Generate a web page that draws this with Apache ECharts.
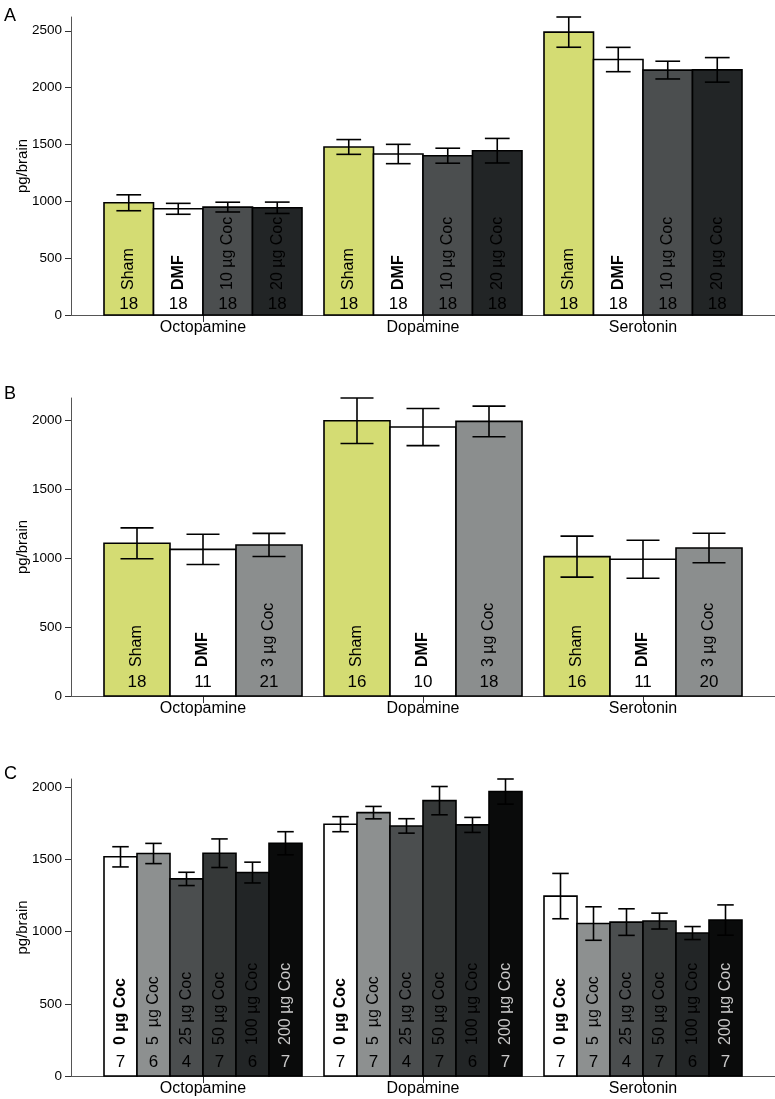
<!DOCTYPE html>
<html>
<head>
<meta charset="utf-8">
<script src="https://cdn.jsdelivr.net/npm/echarts@6/dist/echarts.min.js"></script>
<style>html,body{margin:0;padding:0;background:#fff}#c{width:775px;height:1099px}</style>
</head>
<body>
<div id="c"></div>
<script>
// ---- data ----
const categories = ['Octopamine', 'Dopamine', 'Serotonin'];
const yTicksA = [0, 500, 1000, 1500, 2000, 2500];
const yTicksB = [0, 500, 1000, 1500, 2000];
const yTicksC = [0, 500, 1000, 1500, 2000];

// Panel A
const aLabels = ['Sham', 'DMF', '10 µg Coc', '20 µg Coc'];
const aSham = [987, 1478, 2488], aShamErr = [70, 65, 133], aShamN = [18, 18, 18];
const aDMF = [934, 1416, 2247], aDMFErr = [48, 85, 107], aDMFN = [18, 18, 18];
const aC10 = [949, 1401, 2154], aC10Err = [43, 66, 78], aC10N = [18, 18, 18];
const aC20 = [943, 1445, 2156], aC20Err = [50, 108, 108], aC20N = [18, 18, 18];

// Panel B
const bLabels = ['Sham', 'DMF', '3 µg Coc'];
const bSham = [1109, 1999, 1012], bShamErr = [112, 165, 149], bShamN = [18, 16, 16];
const bDMF = [1065, 1953, 993], bDMFErr = [110, 135, 138], bDMFN = [11, 10, 11];
const bC3 = [1097, 1994, 1075], bC3Err = [84, 111, 107], bC3N = [21, 18, 20];

// Panel C
const cLabels = ['0 µg Coc', '5  µg Coc', '25 µg Coc', '50 µg Coc', '100 µg Coc', '200 µg Coc'];
const cC0 = [1518, 1744, 1246], cC0Err = [70, 52, 157], cC0N = [7, 7, 7];
const cC5 = [1541, 1824, 1056], cC5Err = [70, 43, 116], cC5N = [6, 7, 7];
const cC25 = [1365, 1732, 1066], cC25Err = [46, 50, 92], cC25N = [4, 4, 4];
const cC50 = [1543, 1907, 1073], cC50Err = [99, 98, 55], cC50N = [7, 7, 7];
const cC100 = [1409, 1739, 990], cC100Err = [72, 52, 45], cC100N = [6, 6, 6];
const cC200 = [1612, 1970, 1080], cC200Err = [80, 87, 105], cC200N = [7, 7, 7];

// ---- styling ----
const FONT = '"Liberation Sans", Arial, Helvetica, sans-serif';
const SHAM = '#d4dc73';
const panels = [
  {
    letter: 'A', top: 17, bottom: 784, ticks: yTicksA, labels: aLabels,
    groups: [[aSham, aShamErr, aShamN], [aDMF, aDMFErr, aDMFN], [aC10, aC10Err, aC10N], [aC20, aC20Err, aC20N]],
    fills: [SHAM, '#ffffff', '#4b4e4f', '#222526'],
    textColors: ['#000', '#000', '#000', '#000'],
    bold: [false, true, false, false],
    numOff: 11, labOff: 25, letterTop: 2
  },
  {
    letter: 'B', top: 398, bottom: 403, ticks: yTicksB, labels: bLabels,
    groups: [[bSham, bShamErr, bShamN], [bDMF, bDMFErr, bDMFN], [bC3, bC3Err, bC3N]],
    fills: [SHAM, '#ffffff', '#8b8e8e'],
    textColors: ['#000', '#000', '#000'],
    bold: [false, true, false],
    numOff: 13.5, labOff: 29, letterTop: 380
  },
  {
    letter: 'C', top: 779, bottom: 23, ticks: yTicksC, labels: cLabels,
    groups: [[cC0, cC0Err, cC0N], [cC5, cC5Err, cC5N], [cC25, cC25Err, cC25N], [cC50, cC50Err, cC50N], [cC100, cC100Err, cC100N], [cC200, cC200Err, cC200N]],
    fills: ['#ffffff', '#8d9090', '#4b4e4f', '#353838', '#222526', '#0a0b0b'],
    textColors: ['#000', '#000', '#000', '#000', '#000', '#c8c8c8'],
    bold: [true, false, false, false, false, false],
    numOff: 14, labOff: 31, letterTop: 760
  }
];

const grids = [], xAxes = [], yAxes = [], series = [], titles = [];
panels.forEach((p, pi) => {
  let ymax = 0;
  p.groups.forEach(g => g[0].forEach((v, i) => { ymax = Math.max(ymax, v + g[1][i]); }));
  grids.push({ left: 71, right: 0, top: p.top, bottom: p.bottom });
  titles.push({ text: p.letter, left: -1, top: p.letterTop, textStyle: { fontFamily: FONT, fontSize: 18, fontWeight: 'normal', color: '#000' } });
  xAxes.push({
    type: 'value', gridIndex: pi, min: -0.6, max: 2.6,
    splitLine: { show: false },
    axisLine: { show: true, onZero: false, lineStyle: { color: '#555', width: 1 } },
    axisTick: { show: true, length: 7, customValues: [0, 1, 2], lineStyle: { color: '#333' } },
    axisLabel: {
      customValues: [0, 1, 2], margin: 5,
      formatter: v => categories[Math.round(v)] || '',
      fontFamily: FONT, fontSize: 16, color: '#000'
    }
  });
  yAxes.push({
    type: 'value', gridIndex: pi, min: 0, max: ymax,
    name: 'pg/brain', nameLocation: 'middle', nameRotate: 90, nameGap: 41, nameMoveOverlap: false,
    nameTextStyle: { fontFamily: FONT, fontSize: 15, color: '#000' },
    splitLine: { show: false },
    axisLine: { show: true, onZero: false, lineStyle: { color: '#555', width: 1 } },
    axisTick: { show: true, length: 6, customValues: p.ticks, lineStyle: { color: '#333' } },
    axisLabel: { customValues: p.ticks, margin: 9, formatter: v => String(v), fontFamily: FONT, fontSize: 13.5, color: '#000' }
  });
  const ng = p.groups.length;
  p.groups.forEach((g, gi) => {
    const data = g[0].map((v, i) => [i, v, g[1][i], g[2][i]]);
    series.push({
      type: 'custom', xAxisIndex: pi, yAxisIndex: pi, clip: false,
      data: data,
      renderItem: (params, api) => {
        const ci = api.value(0), v = api.value(1), e = api.value(2), n = api.value(3);
        const w = 0.9 / ng;
        const x0 = ci - 0.45 + gi * w, x1 = x0 + w, xc = (x0 + x1) / 2;
        const pBase = api.coord([x0, 0]);
        const pTop = api.coord([x1, v]);
        const eTop = api.coord([xc, v + e]);
        const eBot = api.coord([xc, v - e]);
        const capL = api.coord([xc - w / 4, v]);
        const capR = api.coord([xc + w / 4, v]);
        const cx = (pBase[0] + pTop[0]) / 2;
        const lineStyle = { stroke: '#000', lineWidth: 1.6 };
        return {
          type: 'group',
          children: [
            { type: 'rect', shape: { x: pBase[0], y: pTop[1], width: pTop[0] - pBase[0], height: pBase[1] - pTop[1] },
              style: { fill: p.fills[gi], stroke: '#000', lineWidth: 1.6 } },
            { type: 'line', shape: { x1: eTop[0], y1: eTop[1], x2: eBot[0], y2: eBot[1] }, style: lineStyle },
            { type: 'line', shape: { x1: capL[0], y1: eTop[1], x2: capR[0], y2: eTop[1] }, style: lineStyle },
            { type: 'line', shape: { x1: capL[0], y1: eBot[1], x2: capR[0], y2: eBot[1] }, style: lineStyle },
            { type: 'text', x: cx, y: pBase[1] - p.numOff,
              style: { text: String(n), fill: p.textColors[gi], font: '17px ' + FONT, align: 'center', verticalAlign: 'middle' } },
            { type: 'text', x: cx, y: pBase[1] - p.labOff, rotation: Math.PI / 2,
              style: { text: p.labels[gi], fill: p.textColors[gi], font: (p.bold[gi] ? 'bold ' : '') + '16px ' + FONT, align: 'left', verticalAlign: 'middle' } }
          ]
        };
      }
    });
  });
});

const chart = echarts.init(document.getElementById('c'), null, { renderer: 'canvas' });
chart.setOption({
  backgroundColor: '#fff',
  animation: false,
  title: titles,
  grid: grids,
  xAxis: xAxes,
  yAxis: yAxes,
  series: series
});
</script>
</body>
</html>
